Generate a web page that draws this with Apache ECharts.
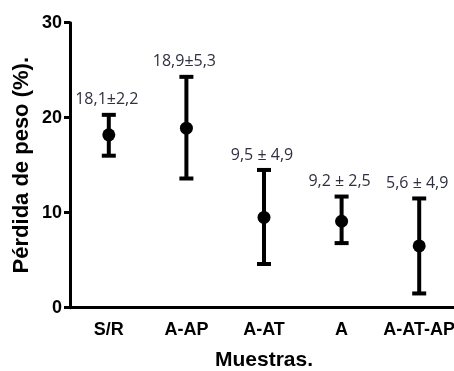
<!DOCTYPE html>
<html><head><meta charset="utf-8">
<script src="https://cdn.jsdelivr.net/npm/echarts@6/dist/echarts.min.js"></script>
<style>html,body{margin:0;padding:0;background:#fff}#c{width:454px;height:371px}</style>
</head><body><div id="c"></div>
<script>
const categories = ['S/R', 'A-AP', 'A-AT', 'A', 'A-AT-AP'];
const means = [18.2, 18.9, 9.5, 9.1, 6.5];
const lows = [16.0, 13.6, 4.6, 6.8, 1.5];
const highs = [20.3, 24.3, 14.5, 11.7, 11.5];
const labels = ['18,1\u00b12,2', '18,9\u00b15,3', '9,5 \u00b1 4,9', '9,2 \u00b1 2,5', '5,6 \u00b1 4,9'];
const yTicks = [0, 10, 20, 30];

const chart = echarts.init(document.getElementById('c'));
const errData = categories.map((c, i) => [i, lows[i], highs[i], labels[i]]);
chart.setOption({
  animation: false,
  grid: { left: 70, top: 22.7, bottom: 63.3, right: -4, containLabel: false, outerBoundsMode: 'none' },
  xAxis: {
    type: 'category', data: categories, boundaryGap: true,
    axisLine: { lineStyle: { color: '#000', width: 3 } },
    axisTick: { alignWithLabel: true, interval: 0, length: 8, lineStyle: { color: '#000', width: 3 } },
    axisLabel: { interval: 0, color: '#000', fontFamily: 'Arial, Liberation Sans', fontWeight: 'bold', fontSize: 18, margin: 13 },
    name: 'Muestras.', nameLocation: 'middle', nameGap: 42, nameMoveOverlap: false,
    nameTextStyle: { color: '#000', fontFamily: 'Arial, Liberation Sans', fontWeight: 'bold', fontSize: 21 }
  },
  yAxis: {
    type: 'value', min: yTicks[0], max: yTicks[yTicks.length - 1], interval: 10,
    splitLine: { show: false },
    axisLine: { show: true, lineStyle: { color: '#000', width: 3 } },
    axisTick: { show: true, length: 6, lineStyle: { color: '#000', width: 3 } },
    axisLabel: { color: '#000', fontFamily: 'Arial, Liberation Sans', fontWeight: 'bold', fontSize: 18, margin: 8 },
    name: 'Pérdida de peso (%).', nameLocation: 'middle', nameGap: 37, nameMoveOverlap: false,
    nameTextStyle: { color: '#000', fontFamily: 'Arial, Liberation Sans', fontWeight: 'bold', fontSize: 22 }
  },
  series: [
    {
      type: 'custom',
      data: errData,
      renderItem: function (params, api) {
        const x = api.value(0);
        const lo = api.coord([x, api.value(1)]);
        const hi = api.coord([x, api.value(2)]);
        const hw = 7;
        const st = { stroke: '#000', lineWidth: 4 };
        return {
          type: 'group',
          children: [
            { type: 'line', shape: { x1: lo[0], y1: lo[1], x2: hi[0], y2: hi[1] }, style: st },
            { type: 'line', shape: { x1: lo[0] - hw, y1: lo[1], x2: lo[0] + hw, y2: lo[1] }, style: st },
            { type: 'line', shape: { x1: hi[0] - hw, y1: hi[1], x2: hi[0] + hw, y2: hi[1] }, style: st },
            { type: 'text', x: hi[0] - 2, y: hi[1] - 15,
              style: { text: api.value(3), fill: '#2f3040', font: '16px "Liberation Sans Narrow", "Open Sans", sans-serif', align: 'center', verticalAlign: 'middle' } }
          ]
        };
      },
      z: 2
    },
    {
      type: 'scatter',
      data: means,
      symbol: 'circle', symbolSize: 13,
      itemStyle: { color: '#000', opacity: 1 },
      z: 3
    }
  ]
});
</script></body></html>
